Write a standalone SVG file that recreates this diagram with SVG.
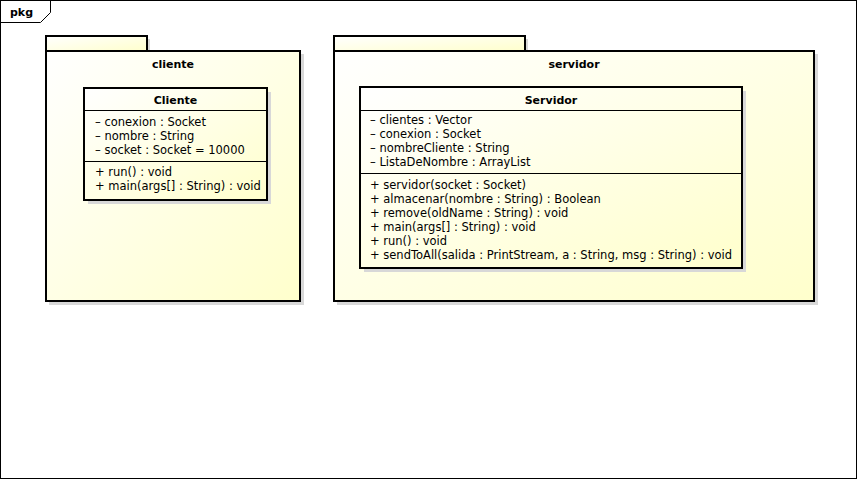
<svg xmlns="http://www.w3.org/2000/svg" width="857" height="479" viewBox="0 0 857 479">
<defs>
<linearGradient id="g" x1="0" y1="0" x2="1" y2="1">
<stop offset="0" stop-color="#ffffff"/>
<stop offset="1" stop-color="#ffffcc"/>
</linearGradient>
</defs>
<style>
.sh{fill:#d8d8d8;stroke:none}
.bx{fill:url(#g);stroke:#000;stroke-width:2}
.ln{stroke:#000;stroke-width:1;fill:none}
text{font-family:"DejaVu Sans","Liberation Sans",sans-serif;font-size:11.5px;fill:#000}
.b{font-weight:bold;text-anchor:middle;font-size:11px}
</style>
<rect x="0.5" y="0.5" width="856" height="478" fill="#fff" stroke="#000" stroke-width="1"/>
<g id="frame-tab">
<path class="ln" d="M0.5,22.5 H40.5 L50.5,12.5 V0.5"/>
<text x="10" y="16" style="font-weight:bold;font-size:11px">pkg</text>
</g>
<g id="cliente-pkg">
<rect class="sh" x="49" y="39" width="101" height="15"/>
<rect class="sh" x="49" y="54" width="255" height="251"/>
<rect class="bx" x="46" y="36" width="101" height="15"/>
<rect class="bx" x="46" y="51" width="254" height="250"/>
<text class="b" x="173" y="68">cliente</text>
</g>
<g id="Cliente">
<rect class="sh" x="88" y="92" width="183" height="112"/>
<rect class="bx" x="84" y="88" width="183" height="112"/>
<line class="ln" x1="84" y1="110.5" x2="267" y2="110.5"/>
<line class="ln" x1="84" y1="161.5" x2="267" y2="161.5"/>
<text class="b" x="175.5" y="104">Cliente</text>
<text x="95" y="126">– conexion : Socket</text>
<text x="95" y="140">– nombre : String</text>
<text x="95" y="154">– socket : Socket = 10000</text>
<text x="95" y="176">+ run() : void</text>
<text x="95" y="190">+ main(args[] : String) : void</text>
</g>
<g id="servidor-pkg">
<rect class="sh" x="337" y="39" width="191" height="15"/>
<rect class="sh" x="337" y="54" width="481" height="251"/>
<rect class="bx" x="334" y="36" width="191" height="15"/>
<rect class="bx" x="334" y="51" width="480" height="250"/>
<text class="b" x="574" y="68">servidor</text>
</g>
<g id="Servidor">
<rect class="sh" x="364" y="91" width="382" height="181"/>
<rect class="bx" x="360" y="87" width="382" height="181"/>
<line class="ln" x1="360" y1="110.5" x2="742" y2="110.5"/>
<line class="ln" x1="360" y1="173.5" x2="742" y2="173.5"/>
<text class="b" x="551" y="104">Servidor</text>
<text x="370" y="124">– clientes : Vector</text>
<text x="370" y="138">– conexion : Socket</text>
<text x="370" y="152">– nombreCliente : String</text>
<text x="370" y="166">– ListaDeNombre : ArrayList</text>
<text x="370" y="189">+ servidor(socket : Socket)</text>
<text x="370" y="203">+ almacenar(nombre : String) : Boolean</text>
<text x="370" y="217">+ remove(oldName : String) : void</text>
<text x="370" y="231">+ main(args[] : String) : void</text>
<text x="370" y="245">+ run() : void</text>
<text x="370" y="259">+ sendToAll(salida : PrintStream, a : String, msg : String) : void</text>
</g>
<g id="connectors"/>
</svg>
